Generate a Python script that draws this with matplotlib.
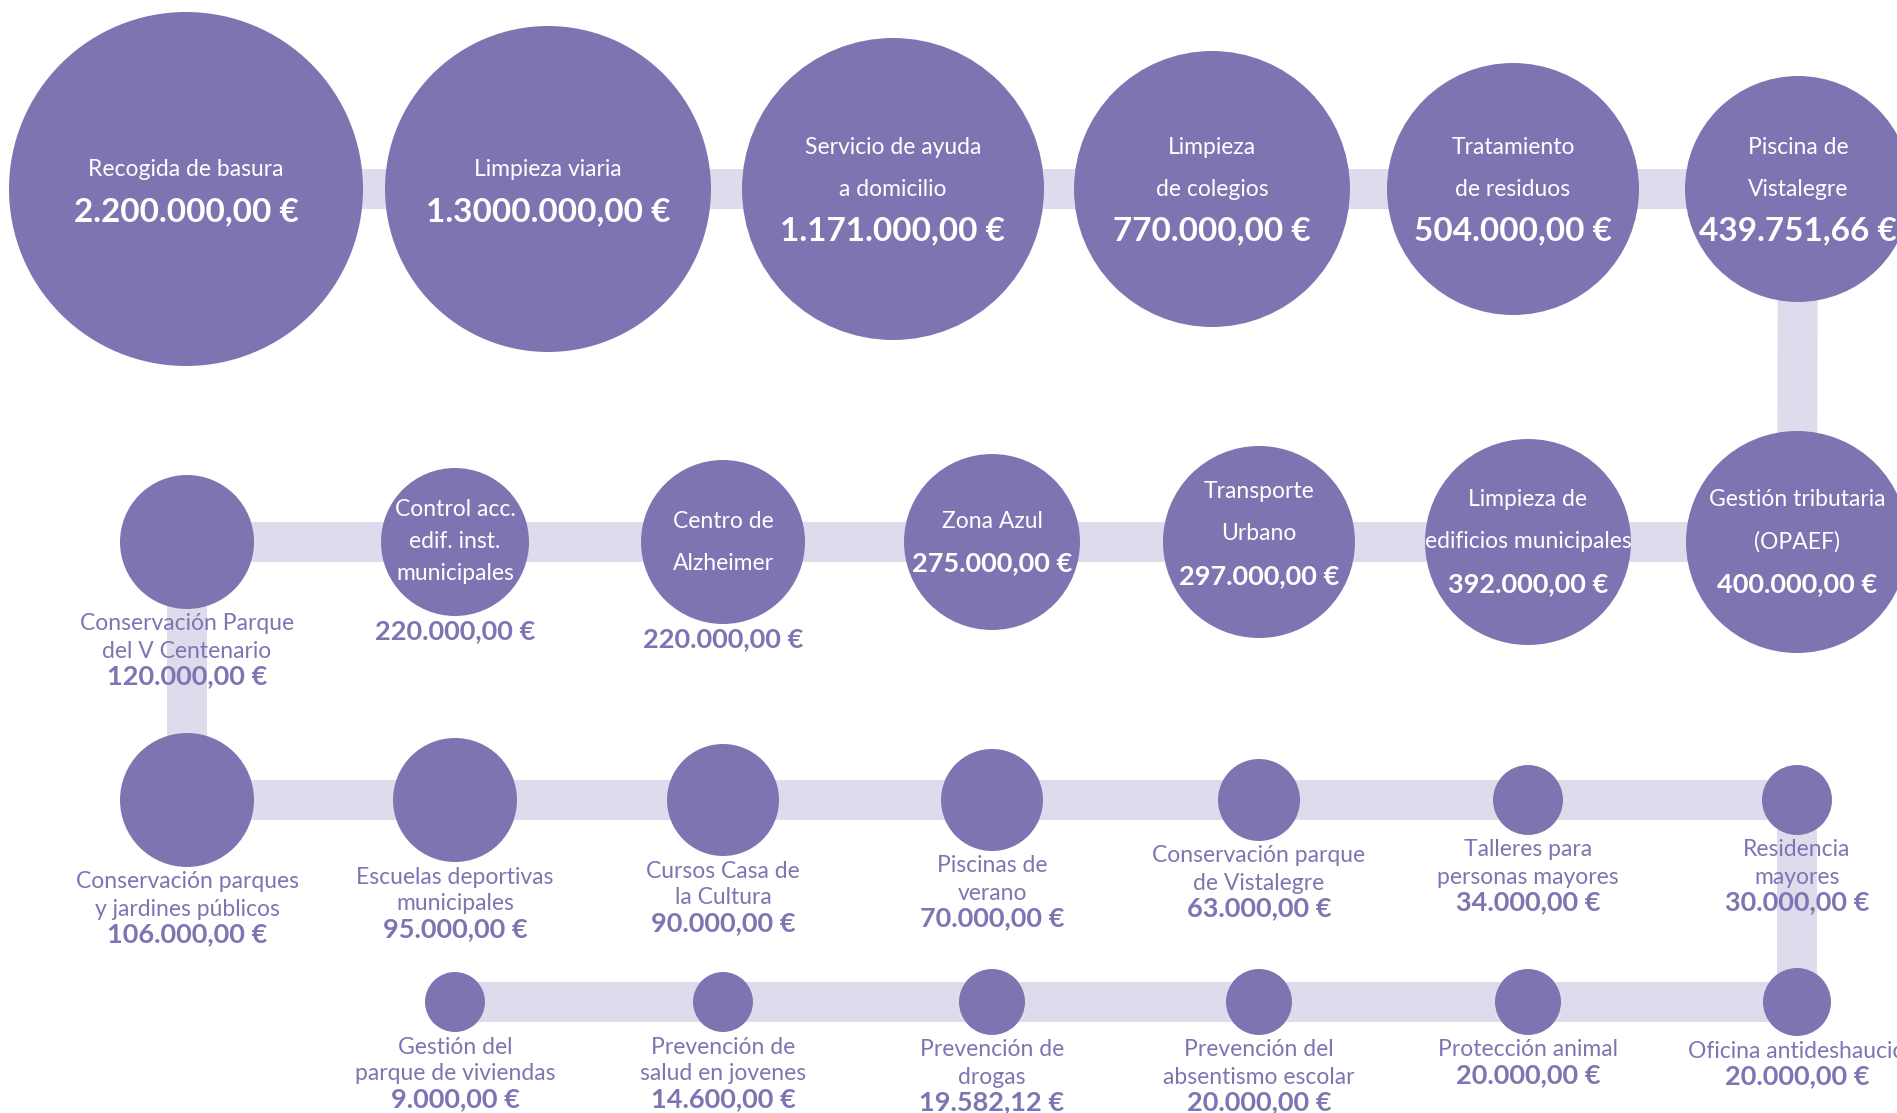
import matplotlib.pyplot as plt
from matplotlib.patches import Circle

# services ordered by budget, read along the snake (row 0 left->right, row 1 right->left, ...)
labels = [
    "Recogida de basura", "Limpieza viaria", "Servicio de ayuda\na domicilio",
    "Limpieza\nde colegios", "Tratamiento\nde residuos", "Piscina de\nVistalegre",
    "Gestión tributaria\n(OPAEF)", "Limpieza de\nedificios municipales", "Transporte\nUrbano",
    "Zona Azul", "Centro de\nAlzheimer", "Control acc.\nedif. inst.\nmunicipales",
    "Conservación Parque\ndel V Centenario",
    "Conservación parques\ny jardines públicos", "Escuelas deportivas\nmunicipales",
    "Cursos Casa de\nla Cultura", "Piscinas de\nverano", "Conservación parque\nde Vistalegre",
    "Talleres para\npersonas mayores", "Residencia\nmayores",
    "Oficina antideshaucio", "Protección animal", "Prevención del\nabsentismo escolar",
    "Prevención de\ndrogas", "Prevención de\nsalud en jovenes", "Gestión del\nparque de viviendas",
]
amounts = [
    "2.200.000,00 €", "1.3000.000,00 €", "1.171.000,00 €", "770.000,00 €", "504.000,00 €", "439.751,66 €",
    "400.000,00 €", "392.000,00 €", "297.000,00 €", "275.000,00 €", "220.000,00 €", "220.000,00 €",
    "120.000,00 €",
    "106.000,00 €", "95.000,00 €", "90.000,00 €", "70.000,00 €", "63.000,00 €", "34.000,00 €",
    "30.000,00 €",
    "20.000,00 €", "20.000,00 €", "20.000,00 €", "19.582,12 €", "14.600,00 €", "9.000,00 €",
]
row_sizes = [6, 7, 7, 6]

# layout (pixels of the 1897x1113 canvas)
row_y = [189, 542, 800, 1002]
top_x = [186, 548, 893, 1212, 1513, 1798]
col_x = [187, 455, 723, 992, 1259, 1528, 1797]
radius = [177, 163, 151, 138, 126, 113,
          111, 103, 96, 88, 82, 74, 67,
          67, 62, 56, 51, 41, 35, 35,
          34, 33, 33, 33, 30, 30]
# 'in': everything inside, 'split': name inside / amount below, 'out': everything below
placement = ["in"] * 10 + ["split", "split"] + ["out"] * 14
nudge = {0: 2, 1: 2, 8: -8}

PURPLE = "#7d75b2"
BAND = "#dedcec"
FONT = "Lato"
LABEL_SIZE = 16.5

xs = top_x + col_x[::-1] + col_x + col_x[1:][::-1]
ys = []
for r, n in enumerate(row_sizes):
    ys += [row_y[r]] * n

fig = plt.figure(figsize=(18.97, 11.13), dpi=100)
ax = fig.add_axes([0, 0, 1, 1])
ax.set_xlim(0, 1897)
ax.set_ylim(1113, 0)
ax.axis("off")

# connecting band
ax.plot(xs, ys, color=BAND, lw=28.8, solid_capstyle="butt", solid_joinstyle="miter", zorder=1)

for i, (x, y, r) in enumerate(zip(xs, ys, radius)):
    ax.add_patch(Circle((x, y), r, color=PURPLE, lw=0, zorder=2))
    lines = labels[i].split("\n")
    amt_size = 24 if i < 6 else 19.5
    mode = placement[i]
    cy = y + nudge.get(i, 0)
    if mode == "in":
        items = [(l, False) for l in lines] + [(amounts[i], True)]
        for k, (txt, bold) in enumerate(items):
            ty = cy + (k - (len(items) - 1) / 2) * 42
            ax.text(x, ty, txt, ha="center", va="center", color="white", family=FONT,
                    fontsize=amt_size if bold else LABEL_SIZE,
                    fontweight="bold" if bold else "normal", zorder=3)
    elif mode == "split":
        sp = 42 if len(lines) < 3 else 32
        for k, txt in enumerate(lines):
            ty = cy + (k - (len(lines) - 1) / 2) * sp
            ax.text(x, ty, txt, ha="center", va="center", color="white", family=FONT,
                    fontsize=LABEL_SIZE, zorder=3)
        ax.text(x, y + r + 15, amounts[i], ha="center", va="center", color=PURPLE, family=FONT,
                fontsize=amt_size, fontweight="bold", zorder=3)
    else:
        ty = y + r + 15
        for txt in lines:
            ax.text(x, ty, txt, ha="center", va="center", color=PURPLE, family=FONT,
                    fontsize=LABEL_SIZE, zorder=3)
            ty += 27
        ty -= 2
        ax.text(x, ty, amounts[i], ha="center", va="center", color=PURPLE, family=FONT,
                fontsize=amt_size, fontweight="bold", zorder=3)

fig.savefig("out.png", dpi=100)
